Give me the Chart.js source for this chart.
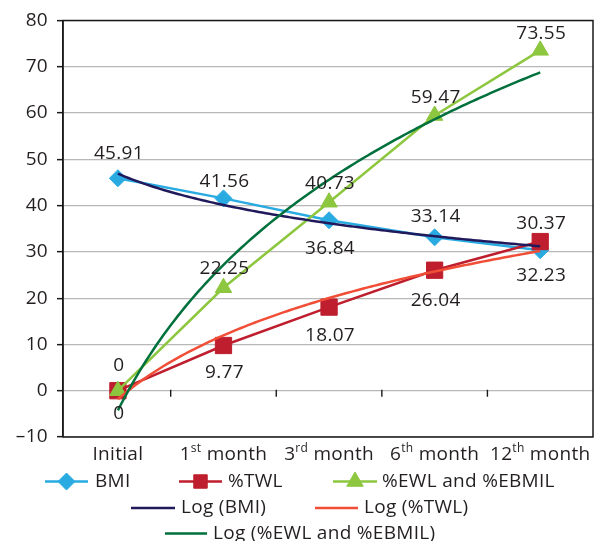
<!DOCTYPE html>
<html>
<head>
<meta charset="utf-8">
<script src="https://cdn.jsdelivr.net/npm/chart.js@4.4.1/dist/chart.umd.min.js"></script>
<style>
  html, body { margin: 0; padding: 0; background: #ffffff; }
  canvas { display: block; }
</style>
</head>
<body>
<canvas id="chart" width="597" height="541"></canvas>
<script>
// Follow-up measurements after surgery
const categories = ['Initial', '1st month', '3rd month', '6th month', '12th month'];
const bmi = [45.91, 41.56, 36.84, 33.14, 30.37];
const twl = [0, 9.77, 18.07, 26.04, 32.23];
const ewl = [0, 22.25, 40.73, 59.47, 73.55];
const yRange = { min: -10, max: 80, step: 10 };

const FONT = '"Open Sans", "Noto Sans", sans-serif';
const FONT_SIZE = 19;
const TEXT = '#231f20';

const COLORS = {
  bmi: '#29abe2',
  twl: '#be1e2d',
  ewl: '#8dc63f',
  logBmi: '#201a5c',
  logTwl: '#f04e37',
  logEwl: '#00703c'
};

// Excel-style logarithmic trend line: y = a*ln(x) + b, x = 1..n
function logTrend(values) {
  const n = values.length;
  const lx = values.map((_, i) => Math.log(i + 1));
  const mx = lx.reduce((s, v) => s + v, 0) / n;
  const my = values.reduce((s, v) => s + v, 0) / n;
  let sxy = 0, sxx = 0;
  for (let i = 0; i < n; i++) {
    sxy += (lx[i] - mx) * (values[i] - my);
    sxx += (lx[i] - mx) * (lx[i] - mx);
  }
  const a = sxy / sxx, b = my - a * mx;
  const pts = [];
  const steps = 120;
  for (let k = 0; k <= steps; k++) {
    const x = 1 + k * (n - 1) / steps;
    pts.push({ x: x, y: a * Math.log(x) + b });
  }
  return pts;
}

const asPoints = arr => arr.map((v, i) => ({ x: i + 1, y: v }));

const datasets = [
  { label: 'Log (%EWL and %EBMIL)', data: logTrend(ewl), borderColor: COLORS.logEwl, borderWidth: 2.5, pointRadius: 0, order: 1, trend: true },
  { label: 'Log (%TWL)', data: logTrend(twl), borderColor: COLORS.logTwl, borderWidth: 2.5, pointRadius: 0, order: 2, trend: true },
  { label: 'Log (BMI)', data: logTrend(bmi), borderColor: COLORS.logBmi, borderWidth: 2.5, pointRadius: 0, order: 3, trend: true },
  { label: '%EWL and %EBMIL', data: asPoints(ewl), borderColor: COLORS.ewl, backgroundColor: COLORS.ewl,
    borderWidth: 2.5, pointStyle: 'triangle', pointRadius: 9.5, pointBorderWidth: 1, order: 4,
    labelDy: [-25, -19, -19, -18, -17] },
  { label: '%TWL', data: asPoints(twl), borderColor: COLORS.twl, backgroundColor: COLORS.twl,
    borderWidth: 2.5, pointStyle: 'rect', pointRadius: 11.5, pointBorderWidth: 1, order: 5,
    labelDy: [23, 27, 28, 30, 34] },
  { label: 'BMI', data: asPoints(bmi), borderColor: COLORS.bmi, backgroundColor: COLORS.bmi,
    borderWidth: 2.5, pointStyle: 'rectRot', pointRadius: 8.5, pointBorderWidth: 1, order: 6,
    labelDy: [-25, -17, 28, -21, -27] }
];

function fmt(v) {
  return Number.isInteger(v) ? String(v) : v.toFixed(2);
}

// Slightly wider text tracking for every label on the canvas
const tracking = {
  id: 'tracking',
  beforeDraw(chart) { chart.ctx.letterSpacing = '0.3px'; }
};

// Plot frame and the small category ticks along the zero line
const framePlugin = {
  id: 'frame',
  afterDraw(chart) {
    const { ctx, chartArea: a, scales } = chart;
    ctx.save();
    ctx.strokeStyle = '#1a1a1a';
    ctx.lineWidth = 1.5;
    ctx.strokeRect(a.left, a.top, a.right - a.left, a.bottom - a.top);
    const y0 = scales.y.getPixelForValue(0);
    ctx.lineWidth = 1.4;
    ctx.beginPath();
    for (let k = 1; k < categories.length; k++) {
      const x = scales.x.getPixelForValue(k + 0.5);
      ctx.moveTo(x, y0 - 1);
      ctx.lineTo(x, y0 + 6);
    }
    ctx.stroke();
    ctx.restore();
  }
};

// Value labels next to each marker
const valueLabels = {
  id: 'valueLabels',
  afterDatasetsDraw(chart) {
    const { ctx } = chart;
    ctx.save();
    ctx.font = FONT_SIZE + 'px ' + FONT;
    ctx.fillStyle = TEXT;
    ctx.textAlign = 'center';
    ctx.textBaseline = 'middle';
    chart.data.datasets.forEach((ds, di) => {
      if (!ds.labelDy) return;
      const meta = chart.getDatasetMeta(di);
      meta.data.forEach((pt, i) => {
        ctx.fillText(fmt(ds.data[i].y), pt.x + 1, pt.y + ds.labelDy[i]);
      });
    });
    ctx.restore();
  }
};

// Category labels with ordinal superscripts
const categoryLabels = {
  id: 'categoryLabels',
  afterDraw(chart) {
    const { ctx, scales } = chart;
    const y = 455;
    ctx.save();
    ctx.fillStyle = TEXT;
    ctx.textBaseline = 'middle';
    ctx.textAlign = 'left';
    categories.forEach((cat, i) => {
      const cx = scales.x.getPixelForValue(i + 1);
      const m = cat.match(/^(\d+)(st|nd|rd|th)(.*)$/);
      const parts = m ? [[m[1], FONT_SIZE, 0], [m[2], 12, -6], [m[3], FONT_SIZE, 0]] : [[cat, FONT_SIZE, 0]];
      let w = 0;
      parts.forEach(p => { ctx.font = p[1] + 'px ' + FONT; w += ctx.measureText(p[0]).width; });
      let x = cx - w / 2;
      parts.forEach(p => {
        ctx.font = p[1] + 'px ' + FONT;
        ctx.fillText(p[0], x, y + p[2]);
        x += ctx.measureText(p[0]).width;
      });
    });
    ctx.restore();
  }
};

// Legend drawn under the plot in three rows
const legendLayout = [
  { label: 'BMI', x0: 45, x1: 88, tx: 95, y: 481.5 },
  { label: '%TWL', x0: 179, x1: 222, tx: 228, y: 481.5 },
  { label: '%EWL and %EBMIL', x0: 333, x1: 377, tx: 382, y: 481.5 },
  { label: 'Log (BMI)', x0: 131, x1: 175, tx: 181, y: 508 },
  { label: 'Log (%TWL)', x0: 315, x1: 358, tx: 364, y: 508 },
  { label: 'Log (%EWL and %EBMIL)', x0: 165, x1: 207, tx: 213, y: 533.5 }
];
const customLegend = {
  id: 'customLegend',
  afterDraw(chart) {
    const { ctx } = chart;
    ctx.save();
    legendLayout.forEach(item => {
      const ds = chart.data.datasets.find(d => d.label === item.label);
      if (!ds) return;
      ctx.strokeStyle = ds.borderColor;
      ctx.lineWidth = 2.5;
      ctx.beginPath();
      ctx.moveTo(item.x0, item.y);
      ctx.lineTo(item.x1, item.y);
      ctx.stroke();
      if (!ds.trend) {
        ctx.fillStyle = ds.backgroundColor;
        ctx.lineWidth = 1;
        const r = ds.pointStyle === 'rect' ? 9.5 : ds.pointRadius;
        Chart.helpers.drawPoint(ctx, { pointStyle: ds.pointStyle, radius: r, rotation: 0, borderWidth: 1 },
          (item.x0 + item.x1) / 2, item.y);
      }
      ctx.fillStyle = TEXT;
      ctx.font = FONT_SIZE + 'px ' + FONT;
      ctx.textAlign = 'left';
      ctx.textBaseline = 'middle';
      ctx.fillText(item.label, item.tx, item.y);
    });
    ctx.restore();
  }
};

new Chart(document.getElementById('chart'), {
  type: 'line',
  data: { datasets: datasets },
  options: {
    responsive: false,
    animation: false,
    devicePixelRatio: 1,
    layout: { autoPadding: false, padding: { top: 20.5, right: 4, left: 0, bottom: 0 } },
    plugins: { legend: { display: false }, tooltip: { enabled: false } },
    elements: { line: { tension: 0 } },
    scales: {
      x: {
        type: 'linear',
        min: 0.48,
        max: 5.5,
        ticks: { display: false },
        grid: { display: false },
        border: { display: false },
        afterFit(scale) { scale.height = 104; }
      },
      y: {
        min: yRange.min,
        max: yRange.max,
        ticks: {
          stepSize: yRange.step,
          padding: 9,
          color: TEXT,
          font: { family: FONT, size: FONT_SIZE },
          callback: v => (v < 0 ? '\u2013' + Math.abs(v) : String(v))
        },
        grid: { color: '#b8b8b8', lineWidth: 1.3, tickLength: 6, tickColor: '#1a1a1a', tickWidth: 1.5 },
        border: { color: '#1a1a1a', width: 1.5 },
        afterFit(scale) { scale.width = 63; }
      }
    }
  },
  plugins: [tracking, framePlugin, valueLabels, categoryLabels, customLegend]
});
</script>
</body>
</html>
